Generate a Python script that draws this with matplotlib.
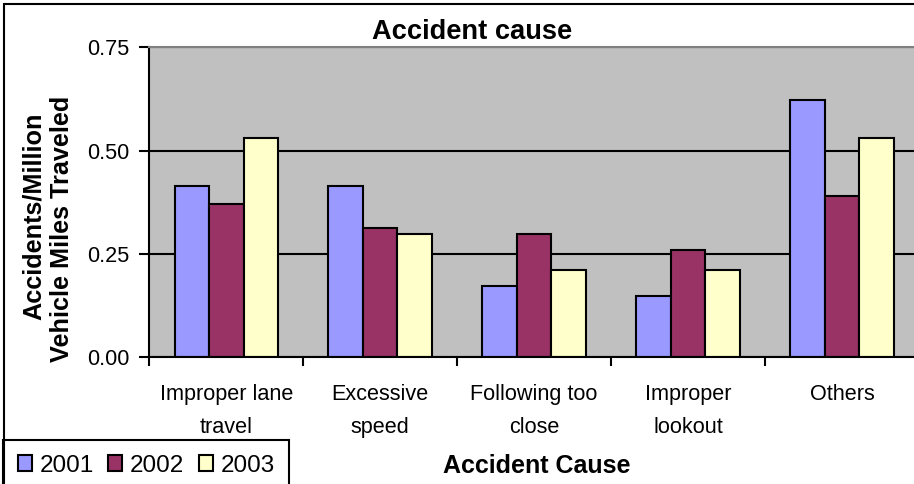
import matplotlib
matplotlib.use("Agg")
import matplotlib.pyplot as plt
from matplotlib.patches import Rectangle
from matplotlib.ticker import FixedLocator, FormatStrFormatter
import numpy as np

plt.rcParams['font.family'] = ['Liberation Sans', 'DejaVu Sans']

# Data
categories = ["Improper lane\ntravel", "Excessive\nspeed", "Following too\nclose",
              "Improper\nlookout", "Others"]
years = ["2001", "2002", "2003"]
rate_2001 = [0.414, 0.414, 0.173, 0.148, 0.622]
rate_2002 = [0.370, 0.313, 0.298, 0.259, 0.391]
rate_2003 = [0.530, 0.298, 0.212, 0.211, 0.530]
colors = ["#9999FF", "#993366", "#FFFFCC"]

W, H = 914, 484
fig = plt.figure(figsize=(W / 100, H / 100), dpi=100)
fig.patch.set_facecolor("white")

# Plot area in pixel geometry
left, right, top, bottom = 149.3, 919.0, 47.3, 357.3
ax = fig.add_axes([left / W, 1 - bottom / H, (right - left) / W, (bottom - top) / H])
ax.set_facecolor("#C0C0C0")

x = np.arange(len(categories))
bw = 0.224
series = [rate_2001, rate_2002, rate_2003]
for i, (vals, c, lab) in enumerate(zip(series, colors, years)):
    ax.bar(x + (i - 1) * bw, vals, width=bw, color=c, edgecolor="black",
           linewidth=1.5, label=lab, zorder=2)

ax.set_xlim(-0.5, len(categories) - 0.5)
ax.set_ylim(0, 0.75)
ax.set_yticks([0, 0.25, 0.5, 0.75])
ax.yaxis.set_major_formatter(FormatStrFormatter("%.2f"))
ax.set_axisbelow(True)
ax.yaxis.grid(True, color="black", linewidth=1.5)
ax.xaxis.grid(False)

# category labels centred, tick marks on category boundaries
ax.set_xticks(x)
ax.set_xticklabels(categories, fontsize=15.6, linespacing=1.75)
ax.xaxis.set_minor_locator(FixedLocator(np.arange(-0.5, len(categories), 1.0)))
ax.tick_params(axis="x", which="major", length=0, pad=19.5)
ax.tick_params(axis="x", which="minor", length=6.5, width=1.5, direction="out")
ax.tick_params(axis="y", which="major", length=7.2, width=1.5, pad=7.2, labelsize=15.6)

for s in ("left", "bottom"):
    ax.spines[s].set_linewidth(1.5)
    ax.spines[s].set_color("black")
ax.spines["top"].set_color("#808080")
ax.spines["top"].set_linewidth(1.5)
ax.spines["right"].set_visible(False)

# Titles
fig.text(472 / W, 1 - 39.3 / H, "Accident cause", ha="center", va="baseline",
         fontsize=19.6, fontweight="bold")
fig.text(537 / W, 1 - 473 / H, "Accident Cause", ha="center", va="baseline",
         fontsize=18, fontweight="bold")
fig.text(34 / W, 1 - 216 / H, "Accidents/Million", rotation=90, ha="center",
         va="center", fontsize=18.2, fontweight="bold")
fig.text(62.5 / W, 1 - 229 / H, "Vehicle Miles Traveled", rotation=90, ha="center",
         va="center", fontsize=18.2, fontweight="bold")

# Legend
leg = ax.legend(loc="upper left", bbox_to_anchor=(3 / W, 1 - 440 / H),
                bbox_transform=fig.transFigure, borderaxespad=0, ncol=3,
                fontsize=17.5, handlelength=0.58, handleheight=0.58,
                handletextpad=0.33, columnspacing=0.58, borderpad=0.6,
                fancybox=False, framealpha=1, edgecolor="black")
leg.get_frame().set_linewidth(1.5)

# Chart-area border
fig.patches.append(Rectangle((3.5 / W, -0.1), 1.2, 1.1 - 4 / H,
                             transform=fig.transFigure, fill=False,
                             edgecolor="black", linewidth=1.5))

fig.savefig("out.png", dpi=100)
